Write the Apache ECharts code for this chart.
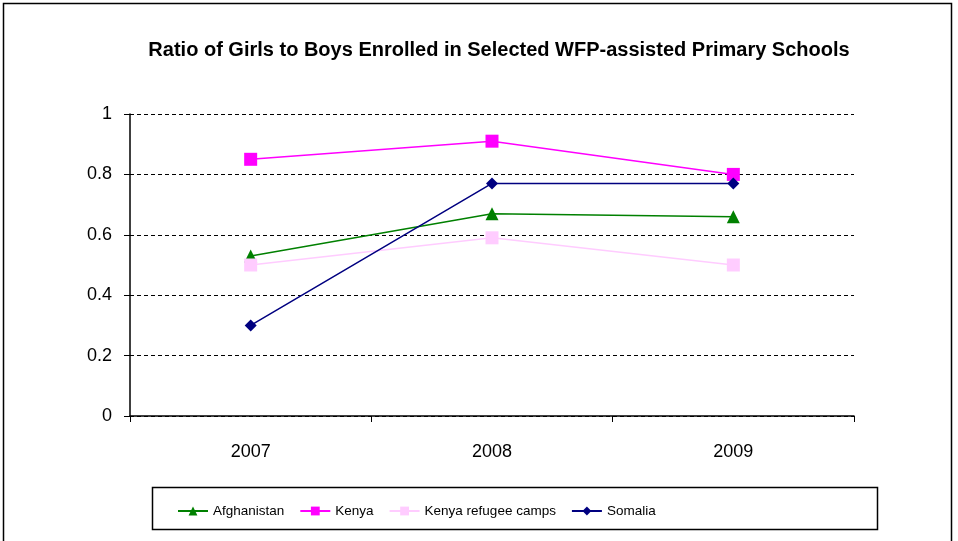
<!DOCTYPE html>
<html>
<head>
<meta charset="utf-8">
<script src="https://cdn.jsdelivr.net/npm/echarts@6/dist/echarts.min.js"></script>
<style>
  html, body { margin: 0; padding: 0; background: #fff; }
  #chart { width: 958px; height: 541px; }
</style>
</head>
<body>
<div id="chart"></div>
<script>
// Enrolment ratio (girls per boy) by year
const years = ['2007', '2008', '2009'];
const afghanistan = [0.53, 0.67, 0.66];
const kenya = [0.85, 0.91, 0.80];
const kenyaRefugeeCamps = [0.50, 0.59, 0.50];
const somalia = [0.30, 0.77, 0.77];
const yTicks = [0, 0.2, 0.4, 0.6, 0.8, 1];

const FONT = '"Liberation Sans", Arial, sans-serif';

function lineSeries(name, data, color, symbol, size) {
  return {
    name: name,
    type: 'line',
    data: data,
    symbol: symbol,
    symbolSize: size,
    lineStyle: { color: color, width: 1.5 },
    itemStyle: { color: color },
    emphasis: { disabled: true },
    animation: false
  };
}

const chart = echarts.init(document.getElementById('chart'), null, { renderer: 'canvas' });
chart.setOption({
  backgroundColor: '#fff',
  animation: false,
  title: {
    text: 'Ratio of Girls to Boys Enrolled in Selected WFP-assisted Primary Schools',
    left: 494,
    textAlign: 'center',
    top: 35,
    textStyle: { fontFamily: FONT, fontSize: 20, fontWeight: 'bold', color: '#000' }
  },
  grid: { left: 130, right: 104, top: 114, bottom: 125 },
  xAxis: {
    type: 'category',
    data: years,
    boundaryGap: true,
    axisLine: { lineStyle: { color: '#000', width: 1.5 } },
    axisTick: { show: true, length: 6, lineStyle: { color: '#000' } },
    axisLabel: { color: '#000', fontFamily: FONT, fontSize: 18, margin: 27 },
    splitLine: { show: false }
  },
  yAxis: {
    type: 'value',
    min: yTicks[0],
    max: yTicks[yTicks.length - 1],
    interval: 0.2,
    axisLine: { show: true, lineStyle: { color: '#000', width: 1.5 } },
    axisTick: { show: true, length: 6, lineStyle: { color: '#000' } },
    axisLabel: {
      color: '#000', fontFamily: FONT, fontSize: 18, margin: 18,
      formatter: function (v) { return String(Math.round(v * 10) / 10); }
    },
    splitLine: { show: true, lineStyle: { color: '#000', type: [4, 3], width: 1 } }
  },
  legend: {
    left: 172,
    top: 499,
    itemWidth: 30,
    itemHeight: 11,
    itemGap: 15,
    textStyle: { fontFamily: FONT, fontSize: 13.5, color: '#000' },
    data: ['Afghanistan', 'Kenya', 'Kenya refugee camps', 'Somalia']
  },
  graphic: [
    {
      type: 'rect',
      shape: { x: 3.5, y: 3.5, width: 948, height: 560 },
      style: { fill: 'none', stroke: '#000', lineWidth: 1.5 },
      silent: true
    },
    {
      type: 'rect',
      shape: { x: 152.5, y: 487.5, width: 725, height: 42 },
      style: { fill: 'none', stroke: '#000', lineWidth: 1.5 },
      silent: true
    }
  ],
  series: [
    lineSeries('Afghanistan', afghanistan, '#008000', 'triangle', 13),
    lineSeries('Kenya', kenya, '#ff00ff', 'rect', 13),
    lineSeries('Kenya refugee camps', kenyaRefugeeCamps, '#ffccff', 'rect', 13),
    lineSeries('Somalia', somalia, '#000080', 'diamond', 12)
  ]
});
</script>
</body>
</html>
